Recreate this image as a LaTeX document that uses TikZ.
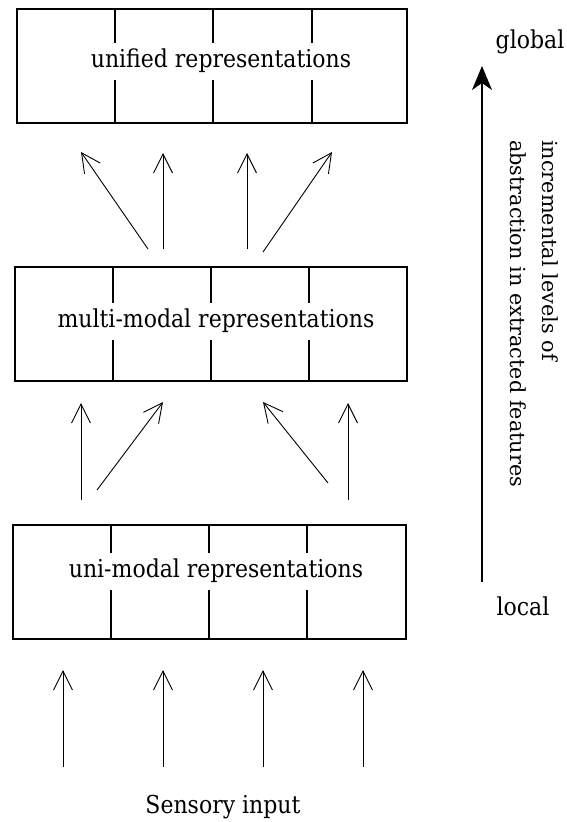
\documentclass[tikz,border=0pt]{standalone}
\usepackage{fontspec}
\setmainfont{DejaVu Serif}
\usetikzlibrary{arrows.meta}
\newcommand{\tallfont}[1]{\scalebox{1}[1.12]{#1}}
\begin{document}
\begin{tikzpicture}[x=1pt,y=-1pt,
  boxline/.style={line width=1.4pt},
  layerbox/.style={draw, line width=1.4pt, minimum width=#1, minimum height=114pt, inner sep=0pt},
  lab/.style={font=\fontsize{22}{26}\selectfont, fill=white, inner xsep=3pt, inner ysep=0pt, minimum height=37pt},
  txt/.style={font=\fontsize{22}{26}\selectfont, inner sep=0pt},
  up/.style={line width=0.9pt, -{Straight Barb[length=19pt,width=19pt,line width=0.9pt]}},
  bigup/.style={line width=1.5pt, -{Stealth[length=24pt,width=20pt,inset=7pt]}},
 ]
\useasboundingbox (0,0) rectangle (566,822);
\fill[white] (0,0) rectangle (566,822);

% boxes
\node[layerbox=390pt] (b1) at (212,66) {};
\node[layerbox=392pt] (b2) at (211,324) {};
\node[layerbox=393pt] (b3) at (209.5,582) {};

% dividers
\foreach \x in {115,213,312} \draw[boxline] (\x,9) -- (\x,123);
\foreach \x in {113,211,309} \draw[boxline] (\x,267) -- (\x,381);
\foreach \x in {111,209,307} \draw[boxline] (\x,525) -- (\x,639);

% labels
\node[lab] (t1) at (221,61) {\tallfont{unified representations}};
\node[lab] (t2) at (216,321) {\tallfont{multi-modal representations}};
\node[lab] (t3) at (216,571) {\tallfont{uni-modal representations}};

% arrows: uni -> multi
\coordinate (m1s) at (81,500);  \coordinate (m1e) at (81,403);
\coordinate (m2s) at (97,490);  \coordinate (m2e) at (163,402);
\coordinate (m3s) at (328,483); \coordinate (m3e) at (263,402);
\coordinate (m4s) at (348,500); \coordinate (m4e) at (348,403);
\foreach \i in {1,2,3,4} \draw[up] (m\i s) -- (m\i e);

% arrows: multi -> unified
\coordinate (u1s) at (148,249); \coordinate (u1e) at (81,152);
\coordinate (u2s) at (163,249); \coordinate (u2e) at (163,153);
\coordinate (u3s) at (247,249); \coordinate (u3e) at (247,153);
\coordinate (u4s) at (263,252); \coordinate (u4e) at (332,152);
\foreach \i in {1,2,3,4} \draw[up] (u\i s) -- (u\i e);

% sensory input arrows
\foreach \x [count=\i] in {63,163,263,363} {
  \coordinate (s\i s) at (\x,767);
  \coordinate (s\i e) at (\x,670);
  \draw[up] (s\i s) -- (s\i e);
}
\node[txt] (sens) at (223,807) {\tallfont{Sensory input}};

% abstraction axis
\node[txt] (glob) at (530,42) {\tallfont{global}};
\node[txt] (loc) at (523,606) {\tallfont{local}};
\coordinate (axb) at (482,582);
\coordinate (axt) at (482,66);
\draw[bigup] (axb) -- (axt);
\node[rotate=-90, anchor=north west, inner sep=0pt, align=left,
      font=\fontsize{20.8}{32}\selectfont] (axlab) at (558,140)
  {incremental levels of\\abstraction in extracted features};
\end{tikzpicture}
\end{document}
